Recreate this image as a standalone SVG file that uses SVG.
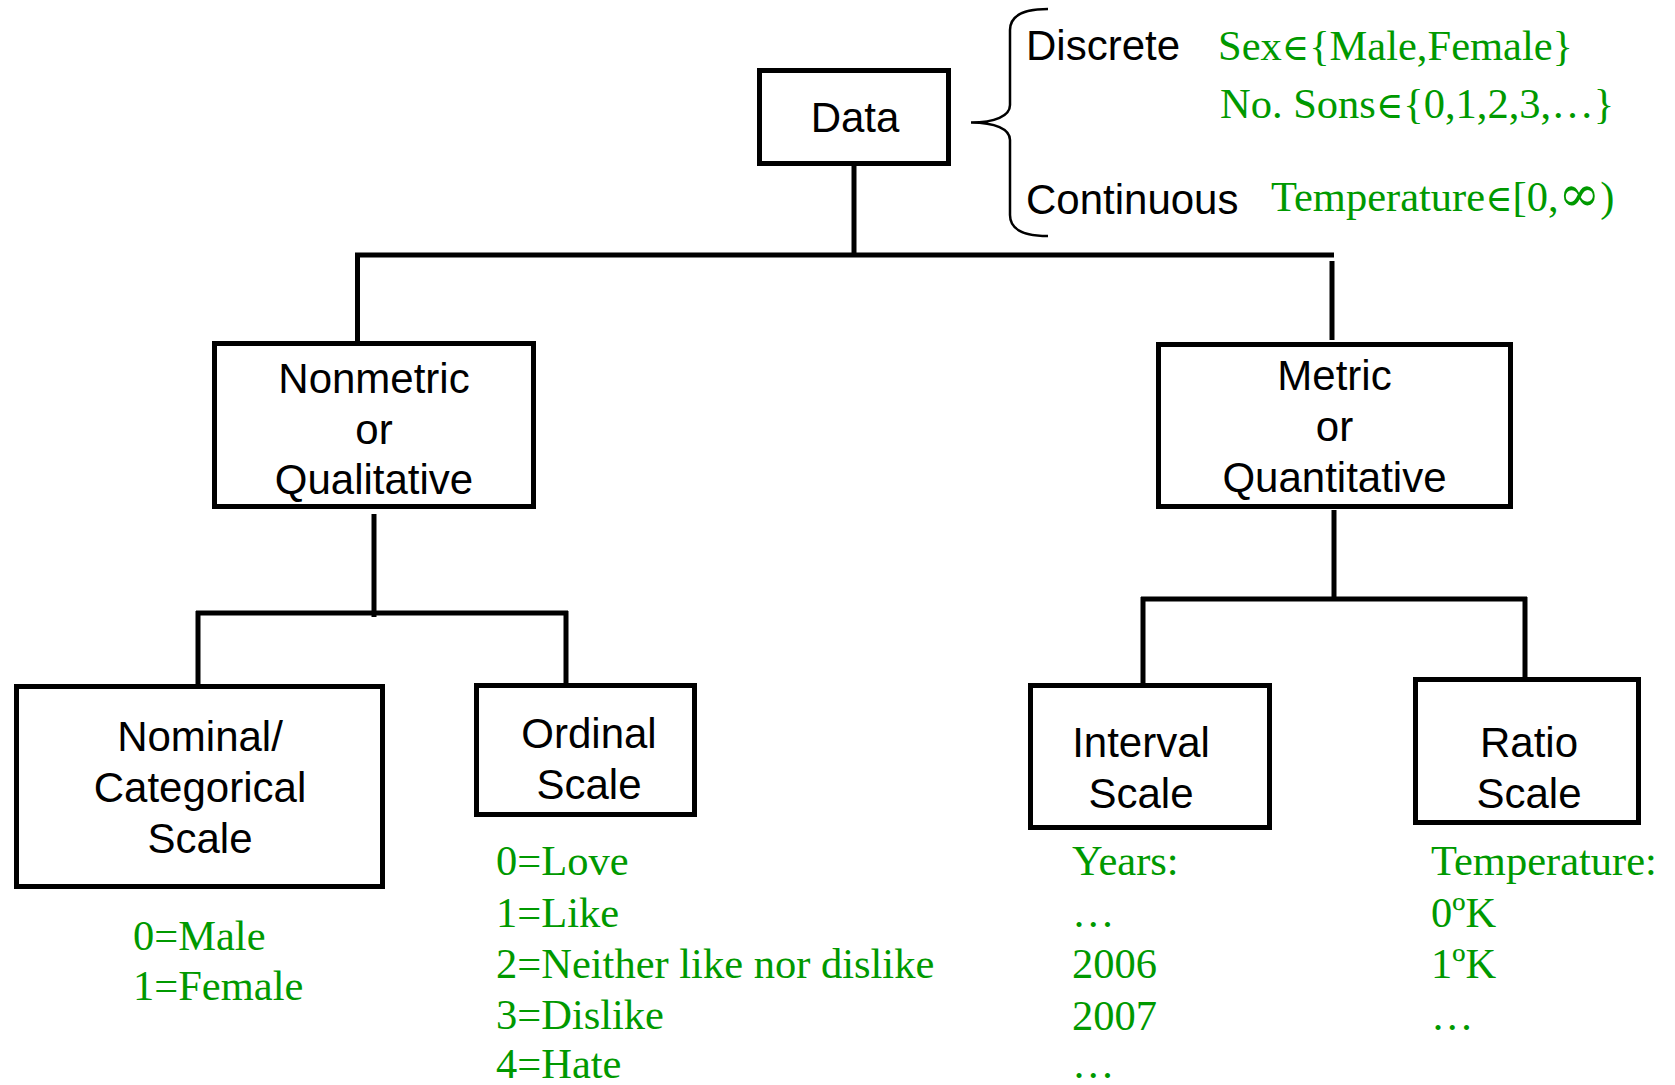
<svg xmlns="http://www.w3.org/2000/svg" width="1675" height="1085" viewBox="0 0 1675 1085">
<style>
.box{fill:#fff;stroke:#000;stroke-width:5}
.conn{fill:none;stroke:#000;stroke-width:5}
.lbl{font-family:"Liberation Sans",Arial,sans-serif;font-size:42px;fill:#000;text-anchor:middle}
.side{font-family:"Liberation Sans",Arial,sans-serif;font-size:42px;fill:#000}
.g{font-family:"Liberation Serif","Times New Roman",serif;font-size:42.5px;fill:#009900}
.el{font-family:"DejaVu Serif",serif;font-size:37px}
.inf{font-family:"DejaVu Serif",serif;font-size:50px}
</style>
<rect width="1675" height="1085" fill="#fff"/>
<g id="connectors">
<path class="conn" d="M854 166V257"/>
<path class="conn" d="M355 255H1334"/>
<path class="conn" d="M357.5 253V342"/>
<path class="conn" d="M1332 261V340"/>
<path class="conn" d="M374 514V617"/>
<path class="conn" d="M196 613H568"/>
<path class="conn" d="M198 611V686"/>
<path class="conn" d="M566 611V686"/>
<path class="conn" d="M1334 510V601"/>
<path class="conn" d="M1141 599H1527"/>
<path class="conn" d="M1143 597V685"/>
<path class="conn" d="M1525 597V684"/>
</g>
<g id="brace">
<path d="M1048 9C1022 9 1010 16 1010 30L1010 105C1010 116 995 122.5 971 122.5C995 122.5 1010 129 1010 140L1010 215C1010 229 1022 236 1048 236" fill="none" stroke="#000" stroke-width="2.5"/>
</g>
<g id="data">
<rect class="box" x="759.5" y="70.5" width="189" height="93"/>
<text class="lbl" x="855" y="132">Data</text>
</g>
<g id="discrete">
<text class="side" x="1026" y="60">Discrete</text>
<text class="g" x="1218" y="60">Sex<tspan class="el">∈</tspan>{Male,Female}</text>
<text class="g" x="1220" y="118">No. Sons<tspan class="el">∈</tspan>{0,1,2,3,…}</text>
</g>
<g id="continuous">
<text class="side" x="1026" y="214">Continuous</text>
<text class="g" x="1271" y="211">Temperature<tspan class="el">∈</tspan>[0,<tspan class="inf">∞</tspan>)</text>
</g>
<g id="nonmetric">
<rect class="box" x="214.5" y="343.5" width="319" height="163"/>
<text class="lbl" x="374" y="393">Nonmetric</text>
<text class="lbl" x="374" y="443.5">or</text>
<text class="lbl" x="374" y="494">Qualitative</text>
</g>
<g id="metric">
<rect class="box" x="1158.5" y="344.5" width="352" height="162"/>
<text class="lbl" x="1334.5" y="390">Metric</text>
<text class="lbl" x="1334.5" y="440.5">or</text>
<text class="lbl" x="1334.5" y="491.5">Quantitative</text>
</g>
<g id="nominal">
<rect class="box" x="16.5" y="686.5" width="366" height="200"/>
<text class="lbl" x="200" y="750.5">Nominal/</text>
<text class="lbl" x="200" y="802">Categorical</text>
<text class="lbl" x="200" y="853">Scale</text>
<text class="g" x="133" y="950">0=Male</text>
<text class="g" x="133" y="1000">1=Female</text>
</g>
<g id="ordinal">
<rect class="box" x="476.5" y="685.5" width="218" height="129"/>
<text class="lbl" x="589" y="748">Ordinal</text>
<text class="lbl" x="589" y="799">Scale</text>
<text class="g" x="496" y="875">0=Love</text>
<text class="g" x="496" y="926.5">1=Like</text>
<text class="g" x="496" y="978">2=Neither like nor dislike</text>
<text class="g" x="496" y="1029">3=Dislike</text>
<text class="g" x="496" y="1078">4=Hate</text>
</g>
<g id="interval">
<rect class="box" x="1030.5" y="685.5" width="239" height="142"/>
<text class="lbl" x="1141" y="756.5">Interval</text>
<text class="lbl" x="1141" y="808">Scale</text>
<text class="g" x="1072" y="875">Years:</text>
<text class="g" x="1072" y="926.5">…</text>
<text class="g" x="1072" y="978">2006</text>
<text class="g" x="1072" y="1029.5">2007</text>
<text class="g" x="1072" y="1078">…</text>
</g>
<g id="ratio">
<rect class="box" x="1415.5" y="679.5" width="223" height="143"/>
<text class="lbl" x="1529" y="756.5">Ratio</text>
<text class="lbl" x="1529" y="808">Scale</text>
<text class="g" x="1431" y="875">Temperature:</text>
<text class="g" x="1431" y="926.5">0ºK</text>
<text class="g" x="1431" y="978">1ºK</text>
<text class="g" x="1431" y="1029.5">…</text>
</g>
</svg>
